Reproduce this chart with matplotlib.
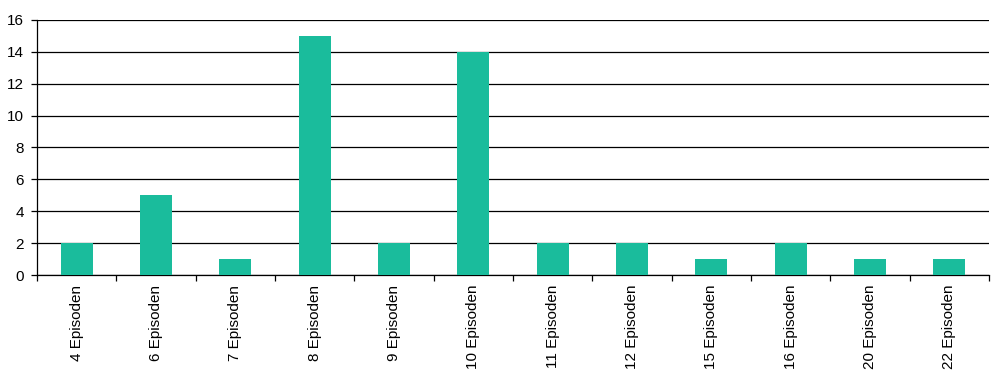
import matplotlib
matplotlib.use("Agg")
import matplotlib.pyplot as plt
import numpy as np

plt.rcParams['font.family'] = ['Liberation Sans', 'DejaVu Sans']

categories = ["4 Episoden", "6 Episoden", "7 Episoden", "8 Episoden", "9 Episoden",
              "10 Episoden", "11 Episoden", "12 Episoden", "15 Episoden", "16 Episoden",
              "20 Episoden", "22 Episoden"]
counts = [2, 5, 1, 15, 2, 14, 2, 2, 1, 2, 1, 1]
y_ticks = [0, 2, 4, 6, 8, 10, 12, 14, 16]

fig = plt.figure(figsize=(10, 3.89), dpi=100)
ax = fig.add_axes([0.037, 0.293, 0.952, 0.656])

x = np.arange(len(categories))
ax.bar(x, counts, width=0.4, color="#1ABC9C", zorder=3)

ax.set_xlim(-0.5, len(categories) - 0.5)
ax.set_ylim(0, 16)
ax.set_yticks(y_ticks)
ax.yaxis.grid(True, color="black", linewidth=0.9)
ax.set_axisbelow(True)

# ticks at category boundaries, labels at centers
ax.set_xticks(np.arange(len(categories) + 1) - 0.5)
ax.set_xticklabels([])
ax.set_xticks(x, minor=True)
ax.set_xticklabels(categories, minor=True, rotation=90, fontsize=11)
ax.tick_params(axis="x", which="minor", length=0, pad=7)
ax.tick_params(axis="x", which="major", length=4, width=0.9, direction="out")
ax.tick_params(axis="y", length=4.3, width=0.9, labelsize=11, pad=5)

for s in ["top", "right"]:
    ax.spines[s].set_visible(False)
ax.spines["left"].set_linewidth(0.9)
ax.spines["bottom"].set_linewidth(0.9)

fig.savefig("out.png", dpi=100)
